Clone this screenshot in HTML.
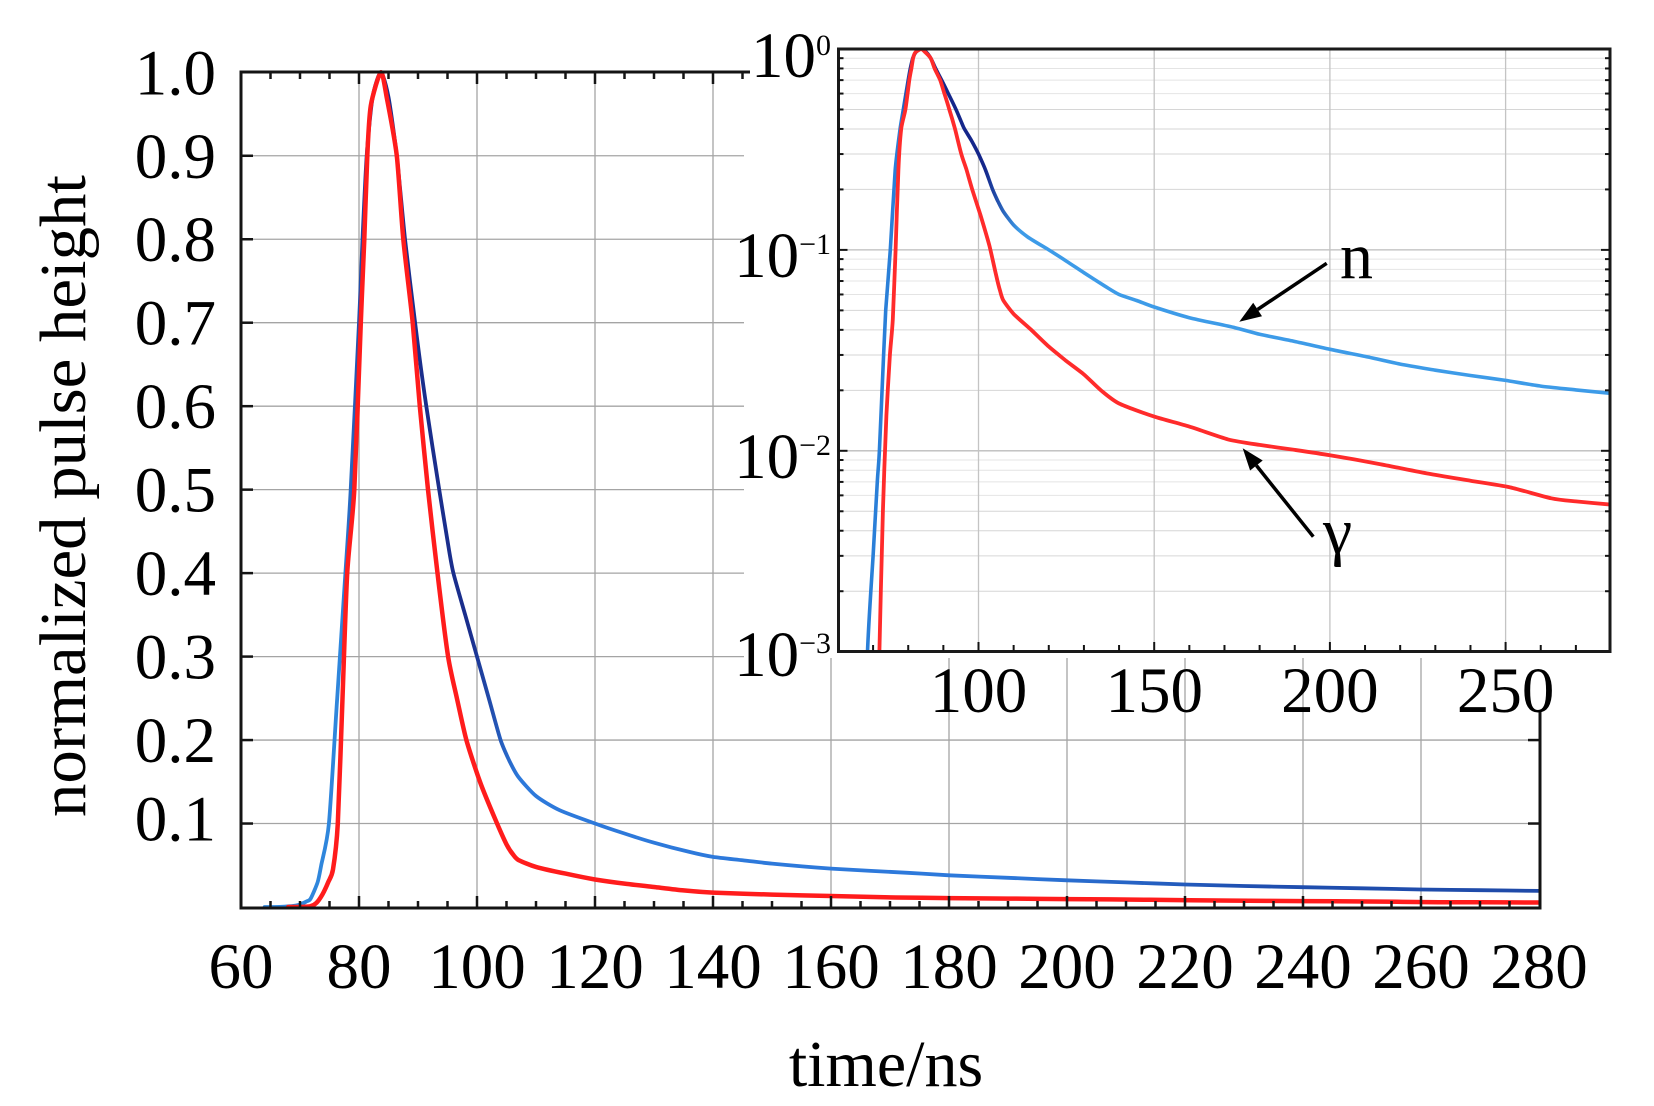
<!DOCTYPE html>
<html>
<head>
<meta charset="utf-8">
<style>
html,body{margin:0;padding:0;background:#fff;}
svg{display:block;}
text{font-family:"Liberation Serif","Times New Roman",serif;fill:#000;}
</style>
</head>
<body>
<svg id="s" width="1654" height="1106" viewBox="0 0 1654 1106" xmlns="http://www.w3.org/2000/svg">
<defs>
  <clipPath id="ci"><rect x="839" y="49" width="770" height="602"/></clipPath>
  <clipPath id="cm"><rect x="242" y="60" width="1297" height="847"/></clipPath>
  <linearGradient id="gbm" gradientUnits="userSpaceOnUse" x1="240" y1="0" x2="1540" y2="0">
    <stop offset="0" stop-color="#2f86dc"/>
    <stop offset="0.077" stop-color="#2f86dc"/>
    <stop offset="0.1" stop-color="#1a2e8c"/>
    <stop offset="0.177" stop-color="#1a2e8c"/>
    <stop offset="0.215" stop-color="#2d79db"/>
    <stop offset="0.585" stop-color="#2d79db"/>
    <stop offset="0.777" stop-color="#1f4fb0"/>
    <stop offset="1" stop-color="#1f4aa8"/>
  </linearGradient>
  <linearGradient id="gbi" gradientUnits="userSpaceOnUse" x1="838" y1="0" x2="1610" y2="0">
    <stop offset="0" stop-color="#2a7fd8"/>
    <stop offset="0.08" stop-color="#2a7fd8"/>
    <stop offset="0.095" stop-color="#14268a"/>
    <stop offset="0.19" stop-color="#14268a"/>
    <stop offset="0.235" stop-color="#3d9be8"/>
    <stop offset="1" stop-color="#3d9be8"/>
  </linearGradient>
</defs>
<rect width="1654" height="1106" fill="#fff"/>
<g id="grid"></g>
<g id="curves"></g>
<g id="axes"></g>
<g id="labels">
  <text x="886" y="1086" font-size="66" text-anchor="middle">time/ns</text>
  <text transform="translate(85,496) rotate(-90)" x="0" y="0" font-size="66" text-anchor="middle" textLength="642" lengthAdjust="spacingAndGlyphs">normalized pulse height</text>

  <text x="831" y="77" font-size="65" text-anchor="end">10<tspan font-size="30" dy="-22">0</tspan></text>
  <text x="831" y="277" font-size="65" text-anchor="end">10<tspan font-size="30" dy="-23">−1</tspan></text>
  <text x="831" y="478" font-size="65" text-anchor="end">10<tspan font-size="30" dy="-23">−2</tspan></text>
  <text x="831" y="676" font-size="65" text-anchor="end">10<tspan font-size="30" dy="-23">−3</tspan></text>

  <text x="1340" y="278" font-size="66">n</text>
  <text x="1323" y="553" font-size="66">γ</text>

  <line x1="1326.7" y1="263.3" x2="1257.6" y2="309.5" stroke="#000" stroke-width="3.5"/>
  <polygon points="1239.3,321.7 1262.0,316.2 1253.2,302.8" fill="#000"/>
  <line x1="1313.3" y1="536.7" x2="1256.4" y2="465.5" stroke="#000" stroke-width="3.5"/>
  <polygon points="1242.7,448.3 1262.7,460.5 1250.1,470.5" fill="#000"/>
</g>
</svg>
<script>
(function(){
var NS="http://www.w3.org/2000/svg";
function el(tag,attrs,parent){var e=document.createElementNS(NS,tag);for(var k in attrs)e.setAttribute(k,attrs[k]);parent.appendChild(e);return e;}
var G=document.getElementById('grid'),C=document.getElementById('curves'),A=document.getElementById('axes'),L=document.getElementById('labels');
function ln(p,x1,y1,x2,y2,c,w){return el('line',{x1:x1,y1:y1,x2:x2,y2:y2,stroke:c,'stroke-width':w},p);}
function xM(t){return 241+(t-60)*5.9;}
function yM(v){return 907-834.7*v;}
function xI(t){return 978.5+(t-100)*3.514;}
function yI(v){return 49-Math.log(v)/Math.LN10*200.9;}

/* main grid */
var gc="#a4a4a4";
[80,100,120,140].forEach(function(t){ln(G,xM(t),72,xM(t),907,gc,1.3);});
[160,180,200,220,240,260].forEach(function(t){ln(G,xM(t),658,xM(t),907,gc,1.3);});
for(var i=3;i<=9;i++){var v=i/10;ln(G,241,yM(v),744,yM(v),gc,1.3);}
[0.1,0.2].forEach(function(v){ln(G,241,yM(v),1540,yM(v),gc,1.3);});

/* inset grid */
for(var d=-3;d<0;d++){
  for(var k=2;k<=9;k++){var vv=k*Math.pow(10,d);var y=yI(vv);ln(G,839,y,1609,y,k<=5?"#d6d6d6":"#e4e4e4",1);}
}
[0.1,0.01].forEach(function(v){ln(G,839,yI(v),1609,yI(v),"#bcbcbc",1.3);});
[100,150,200,250].forEach(function(t){ln(G,xI(t),49,xI(t),651,"#c4c4c4",1.3);});

/* data */
var blue=[[64,1e-5],[66.5,1e-4],[68.4,1e-3],[70,3e-3],[71.2,0.007],[71.8,0.01],[73,0.03],[73.6,0.05],[74.9,0.1],[76.3,0.25],[77.7,0.4],[78.6,0.5],[80.0,0.7],[80.6,0.8],[81.3,0.9],[82.3,0.97],[83.7,1.0],[85,0.97],[86.4,0.9],[87.8,0.8],[89.5,0.7],[91.4,0.6],[93.6,0.5],[95.2,0.43],[96,0.4],[98,0.35],[100,0.3],[102,0.25],[104,0.2],[105.5,0.175],[107,0.156],[110,0.133],[114,0.116],[120,0.1],[125,0.088],[130,0.077],[136,0.066],[140,0.06],[145,0.056],[150,0.052],[160,0.046],[173,0.041],[180,0.038],[190,0.035],[200,0.032],[210,0.0295],[220,0.027],[230,0.0252],[240,0.0237],[250,0.0224],[260,0.021],[270,0.0201],[280,0.0193]];
var red=[[68,1e-5],[70.5,1e-4],[71.8,1e-3],[72.8,5e-3],[73.8,0.015],[74.8,0.03],[75.6,0.045],[76.4,0.1],[77.2,0.25],[78,0.4],[79.2,0.5],[80.3,0.7],[80.9,0.8],[81.4,0.9],[82,0.96],[83.7,1.0],[84.7,0.97],[86.4,0.9],[87.5,0.8],[89.1,0.7],[90.3,0.6],[91.7,0.5],[93.3,0.4],[95.1,0.3],[96.6,0.25],[98.2,0.2],[100.5,0.15],[103.1,0.105],[105,0.075],[106.2,0.062],[107.1,0.056],[110,0.048],[115,0.04],[120,0.033],[125,0.028],[130,0.024],[135,0.0199],[140,0.0172],[150,0.0148],[160,0.0132],[171,0.0114],[180,0.0107],[190,0.0101],[200,0.0095],[214,0.0086],[228,0.0077],[240,0.0071],[251,0.0066],[263,0.0058],[270,0.0056],[280,0.0054]];

function pth(data,fx,fy){
  var p=data.map(function(q){return [fx(q[0]),fy(q[1])];});
  var kk=0.7,s="M"+p[0][0].toFixed(1)+","+p[0][1].toFixed(1);
  for(var i=0;i<p.length-1;i++){
    var p0=p[i-1]||p[i],p1=p[i],p2=p[i+1],p3=p[i+2]||p[i+1];
    var c1x=p1[0]+(p2[0]-p0[0])/6*kk,c1y=p1[1]+(p2[1]-p0[1])/6*kk;
    var c2x=p2[0]-(p3[0]-p1[0])/6*kk,c2y=p2[1]-(p3[1]-p1[1])/6*kk;
    s+="C"+c1x.toFixed(1)+","+c1y.toFixed(1)+" "+c2x.toFixed(1)+","+c2y.toFixed(1)+" "+p2[0].toFixed(1)+","+p2[1].toFixed(1);
  }
  return s;
}

var gm=el('g',{'clip-path':'url(#cm)'},C);
el('path',{d:pth(blue,xM,yM),fill:'none',stroke:'url(#gbm)','stroke-width':3.8,'stroke-linejoin':'round','stroke-linecap':'round'},gm);
el('path',{d:pth(red,xM,yM),fill:'none',stroke:'#ff1c1c','stroke-width':4.5,'stroke-linejoin':'round','stroke-linecap':'round'},gm);
var gi=el('g',{'clip-path':'url(#ci)'},C);
el('path',{d:pth(blue,xI,yI),fill:'none',stroke:'url(#gbi)','stroke-width':3.6,'stroke-linejoin':'round','stroke-linecap':'round'},gi);
el('path',{d:pth(red,xI,yI),fill:'none',stroke:'#ff2b2b','stroke-width':3.8,'stroke-linejoin':'round','stroke-linecap':'round'},gi);

/* main axes */
var ac="#141414";
ln(A,240,72,750,72,ac,3);
ln(A,241,70.5,241,909.5,ac,3);
ln(A,239.5,908,1541.5,908,ac,3);
ln(A,1540,711,1540,909.5,ac,3);
for(var t=65;t<=275;t+=5){var len=(t%20===0)?12:7;ln(A,xM(t),908,xM(t),908-len,ac,2.5);}
for(var t2=65;t2<=145;t2+=5){var len2=(t2%20===0)?12:7;ln(A,xM(t2),72,xM(t2),72+len2,ac,2.5);}
for(var j=1;j<=9;j++){ln(A,241,yM(j/10),253,yM(j/10),ac,2.5);}
[0.1,0.2].forEach(function(v){ln(A,1540,yM(v),1528,yM(v),ac,2.5);});

/* inset axes */
el('rect',{x:838.5,y:49,width:771.5,height:602.5,fill:'none',stroke:'#1a1a1a','stroke-width':3},A);
for(var t3=70;t3<=270;t3+=10){var l3=(t3%50===0)?9:6;ln(A,xI(t3),651,xI(t3),651-l3,ac,2);}
for(var d2=-3;d2<0;d2++){
  for(var k2=1;k2<=9;k2++){
    if(k2===1&&d2===-3)continue;
    var v2=k2*Math.pow(10,d2);var y2=yI(v2);var l4=(k2===1)?9:5;
    ln(A,838.5,y2,838.5+l4,y2,ac,2);
    ln(A,1610,y2,1610-l4,y2,ac,2);
  }
}

/* tick labels */
for(var m=1;m<=10;m++){var vv2=m/10;var tx=el('text',{x:216,y:(yM(vv2)+(m===1?17:22)).toFixed(1),'font-size':65,'text-anchor':'end'},L);tx.textContent=vv2.toFixed(1);}
for(var t4=60;t4<=280;t4+=20){var tx2=el('text',{x:xM(t4).toFixed(1),y:988,'font-size':65,'text-anchor':'middle'},L);tx2.textContent=String(t4);}
[100,150,200,250].forEach(function(t){var tx3=el('text',{x:xI(t).toFixed(1),y:712,'font-size':65,'text-anchor':'middle'},L);tx3.textContent=String(t);});
})();
</script>
</body>
</html>
